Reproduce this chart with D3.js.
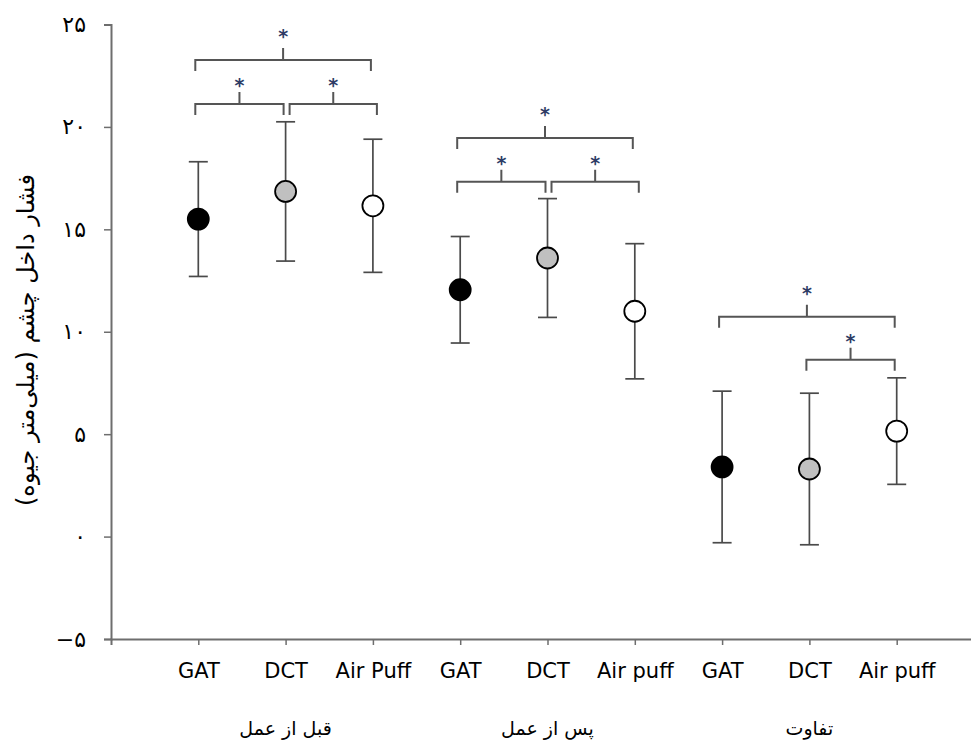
<!DOCTYPE html>
<html>
<head>
<meta charset="utf-8">
<script src="https://cdn.jsdelivr.net/npm/d3@7"></script>
<style>
  body { margin: 0; background: #fff; }
  svg { display: block; }
</style>
</head>
<body>
<div id="chart"></div>
<script>
// data
const categories = ["GAT", "DCT", "Air Puff", "GAT", "DCT", "Air puff", "GAT", "DCT", "Air puff"];
const groupLabels = ["قبل از عمل", "پس از عمل", "تفاوت"];
const means = [15.5, 16.85, 16.15, 12.05, 13.6, 11.0, 3.4, 3.3, 5.15];
const sds = [2.8, 3.4, 3.25, 2.6, 2.9, 3.3, 3.7, 3.7, 2.6];
const methodFill = ["#000000", "#c0c0c0", "#ffffff"];
const yTicks = [-5, 0, 5, 10, 15, 20, 25];
const yTickLabels = ["−۵", "۰", "۵", "۱۰", "۱۵", "۲۰", "۲۵"];
const yTitle = "فشار داخل چشم (میلی‌متر جیوه)";
// significance brackets: from index, to index, level (in y units)
const bracketFrom = [0, 0, 1, 3, 3, 4, 6, 7];
const bracketTo = [2, 1, 2, 5, 4, 5, 8, 8];
const bracketLevel = [23.27, 21.12, 21.12, 19.46, 17.32, 17.32, 10.73, 8.63];

const width = 971, height = 740;
const svg = d3.select("#chart").append("svg")
    .attr("width", width)
    .attr("height", height);

const y = d3.scaleLinear().domain([-5, 25]).range([639, 24.5]);
const x = d3.scaleLinear().domain([-1, 9]).range([111, 984]);

const axisColor = "#6e6e6e";
const font = "'DejaVu Sans', Tahoma, sans-serif";

// y axis
const yAxis = svg.append("g")
    .attr("transform", "translate(111,0)")
    .call(d3.axisLeft(y).tickValues(yTicks).tickSize(7).tickPadding(18)
        .tickFormat((d, i) => yTickLabels[i]));
yAxis.select(".domain").attr("stroke", axisColor).attr("stroke-width", 2);
yAxis.selectAll(".tick line").attr("stroke", axisColor).attr("stroke-width", 1.5);
yAxis.selectAll(".tick text")
    .attr("fill", "#000")
    .style("font-family", font)
    .style("font-size", "22px");

// x axis
const xAxis = svg.append("g")
    .attr("transform", "translate(0,639)")
    .call(d3.axisBottom(x).tickValues(d3.range(categories.length)).tickSize(6).tickPadding(18)
        .tickFormat(i => categories[i]));
xAxis.select(".domain").attr("stroke", axisColor).attr("stroke-width", 2);
xAxis.selectAll(".tick line").attr("stroke", axisColor).attr("stroke-width", 1.5);
xAxis.selectAll(".tick text")
    .attr("fill", "#000")
    .style("font-family", font)
    .style("font-size", "21px");

// group labels
svg.selectAll("text.group")
    .data(groupLabels)
    .enter().append("text")
    .attr("class", "group")
    .attr("x", (d, i) => x(i * 3 + 1))
    .attr("y", 735)
    .attr("text-anchor", "middle")
    .style("font-family", font)
    .style("font-size", "19px")
    .text(d => d);

// y title
svg.append("text")
    .attr("transform", "translate(27,340) rotate(-90)")
    .attr("text-anchor", "middle")
    .attr("dominant-baseline", "middle")
    .style("font-family", font)
    .style("font-size", "24px")
    .text(yTitle);

// error bars
const pts = means.map((m, i) => ({ i, m, sd: sds[i] }));
const eb = svg.append("g").attr("stroke", "#4a4a4a").attr("stroke-width", 1.7);
eb.selectAll("line.v").data(pts).enter().append("line")
    .attr("x1", d => x(d.i)).attr("x2", d => x(d.i))
    .attr("y1", d => y(d.m + d.sd)).attr("y2", d => y(d.m - d.sd));
eb.selectAll("line.cu").data(pts).enter().append("line")
    .attr("x1", d => x(d.i) - 9.5).attr("x2", d => x(d.i) + 9.5)
    .attr("y1", d => y(d.m + d.sd)).attr("y2", d => y(d.m + d.sd));
eb.selectAll("line.cl").data(pts).enter().append("line")
    .attr("x1", d => x(d.i) - 9.5).attr("x2", d => x(d.i) + 9.5)
    .attr("y1", d => y(d.m - d.sd)).attr("y2", d => y(d.m - d.sd));

// points
svg.selectAll("circle.pt").data(pts).enter().append("circle")
    .attr("class", "pt")
    .attr("cx", d => x(d.i))
    .attr("cy", d => y(d.m))
    .attr("r", 10.5)
    .attr("fill", d => methodFill[d.i % 3])
    .attr("stroke", "#000")
    .attr("stroke-width", 1.8);

// significance brackets
const brackets = bracketFrom.map((f, k) => {
    const t = bracketTo[k], lv = bracketLevel[k];
    // shift right when another bracket at the same level ends where this one starts
    const shifted = bracketTo.some((t2, j) => j !== k && t2 === f && bracketLevel[j] === lv);
    const x1 = x(f) + (shifted ? 4 : -3);
    const x2 = x(t) + (shifted ? 4 : -2);
    return { x1, x2, yy: y(lv), outer: t - f === 2 };
});
const bg = svg.append("g").attr("stroke", "#555").attr("stroke-width", 2).attr("fill", "none");
bg.selectAll("path").data(brackets).enter().append("path")
    .attr("d", d => {
        const xm = (d.x1 + d.x2) / 2;
        return `M${d.x1},${d.yy + 11}V${d.yy}H${d.x2}V${d.yy + 11}M${xm},${d.yy}V${d.yy - 12}`;
    });
svg.selectAll("text.star").data(brackets).enter().append("text")
    .attr("class", "star")
    .attr("x", d => (d.x1 + d.x2) / 2)
    .attr("y", d => d.yy - (d.outer ? 27 : 22) + 10)
    .attr("text-anchor", "middle")
    .attr("fill", "#2e3c66")
    .style("font-family", font)
    .style("font-size", "19px")
    .style("font-weight", "bold")
    .text("*");
</script>
</body>
</html>
